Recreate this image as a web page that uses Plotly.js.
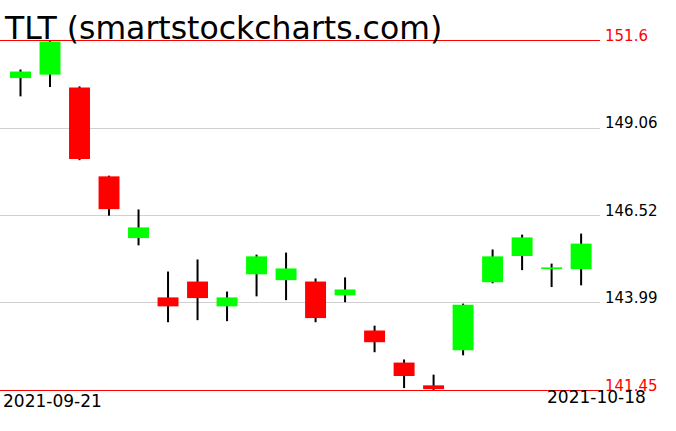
<!DOCTYPE html>
<html>
<head>
<meta charset="utf-8">
<script src="https://cdn.plot.ly/plotly-3.0.1.min.js"></script>
<style>html,body{margin:0;padding:0;background:#fff;}#chart{width:676px;height:431px;}</style>
</head>
<body>
<div id="chart"></div>
<script>
// ---- data ----
var dates = ['2021-09-21','2021-09-22','2021-09-23','2021-09-24','2021-09-27','2021-09-28','2021-09-29','2021-09-30','2021-10-01','2021-10-04',
             '2021-10-05','2021-10-06','2021-10-07','2021-10-08','2021-10-11','2021-10-12','2021-10-13','2021-10-14','2021-10-15','2021-10-18'];
var openP  = [150.51,150.61,150.24,147.66,145.87,144.15,144.61,143.89,144.82,144.65,144.61,144.21,143.19,142.26,141.60,142.62,144.59,145.35,144.97,144.97];
var highP  = [150.76,151.60,150.27,147.68,146.70,144.90,145.25,144.32,145.39,145.45,144.70,144.73,143.33,142.35,141.91,143.97,145.54,145.97,145.13,146.00];
var lowP   = [149.98,150.25,148.13,146.52,145.66,143.43,143.49,143.46,144.18,144.07,143.43,144.01,142.56,141.52,141.45,142.47,144.56,144.94,144.45,144.50];
var closeP = [150.70,151.57,148.16,146.71,146.18,143.89,144.13,144.15,145.34,144.99,143.55,144.38,142.85,141.87,141.49,143.94,145.34,145.89,145.02,145.71];
var gridLevels = [149.06, 146.52, 143.99];
var gridLabels = ['149.06', '146.52', '143.99'];
var extremeLevels = [151.6, 141.45];
var extremeLabels = ['151.6', '141.45'];
var titleText = 'TLT (smartstockcharts.com)';

// ---- build traces ----
var UP = '#00ff00', DOWN = '#ff0000';
var idx = dates.map(function (d, i) { return i; });
var wickBase = [], wickLen = [];
var bodyBase = [], bodyLen = [], bodyCol = [];
for (var i = 0; i < dates.length; i++) {
  var bHi = Math.max(openP[i], closeP[i]);
  var bLo = Math.min(openP[i], closeP[i]);
  wickBase.push(lowP[i]);
  wickLen.push(highP[i] - lowP[i]);
  bodyBase.push(bLo);
  bodyLen.push(Math.max(bHi - bLo, 0.04));
  bodyCol.push(closeP[i] >= openP[i] ? UP : DOWN);
}

var wicks = {
  type: 'bar', x: idx, y: wickLen, base: wickBase, width: 0.068,
  marker: {color: '#000000', line: {width: 0}},
  text: dates, textposition: 'none', hoverinfo: 'text', showlegend: false
};
var bodies = {
  type: 'bar', x: idx, y: bodyLen, base: bodyBase, width: 0.71,
  marker: {color: bodyCol, line: {width: 0}},
  text: dates, textposition: 'none', hoverinfo: 'text', showlegend: false
};

var shapes = extremeLevels.map(function (v) {
  return {type: 'line', xref: 'paper', x0: 0, x1: 1, yref: 'y', y0: v, y1: v,
          line: {color: '#ff0000', width: 1}, layer: 'above'};
});

var annotations = [];
gridLevels.forEach(function (v, k) {
  annotations.push({xref: 'paper', x: 1, xanchor: 'left', xshift: 3, yref: 'y', y: v, yanchor: 'bottom', yshift: -6,
    text: gridLabels[k], showarrow: false, font: {family: 'DejaVu Sans', size: 15, color: '#000000'}});
});
extremeLevels.forEach(function (v, k) {
  annotations.push({xref: 'paper', x: 1, xanchor: 'left', xshift: 3, yref: 'y', y: v, yanchor: 'bottom', yshift: -6,
    text: extremeLabels[k], showarrow: false, font: {family: 'DejaVu Sans', size: 15, color: '#ff0000'}});
});
annotations.push({xref: 'paper', x: 0, xanchor: 'left', xshift: 1, yref: 'paper', y: 0, yanchor: 'top', yshift: 11,
  text: dates[0], showarrow: false, font: {family: 'DejaVu Sans', size: 17, color: '#000000'}});
annotations.push({xref: 'paper', x: 1, xanchor: 'right', xshift: 48, yref: 'paper', y: 0, yanchor: 'top', yshift: 15,
  text: dates[dates.length - 1], showarrow: false, font: {family: 'DejaVu Sans', size: 17, color: '#000000'}});
annotations.push({xref: 'paper', x: 0, xanchor: 'left', xshift: 2, yref: 'paper', y: 1, yanchor: 'bottom', yshift: -18,
  text: titleText, showarrow: false, font: {family: 'DejaVu Sans', size: 31.5, color: '#000000'}});

var layout = {
  width: 676, height: 431,
  margin: {l: 0, r: 76, t: 30, b: 31, pad: 0},
  paper_bgcolor: '#ffffff', plot_bgcolor: '#ffffff',
  showlegend: false, barmode: 'overlay',
  xaxis: {type: 'linear', range: [-0.695, 19.64], showgrid: false, zeroline: false,
          showticklabels: false, ticks: '', showline: false, fixedrange: true},
  yaxis: {range: [141.1745, 151.9045], tickvals: gridLevels, showticklabels: false, ticks: '',
          showgrid: true, gridcolor: '#d0d0d0', gridwidth: 1, zeroline: false, showline: false, fixedrange: true},
  shapes: shapes,
  annotations: annotations
};

Plotly.newPlot('chart', [wicks, bodies], layout, {displayModeBar: false, staticPlot: true});
</script>
</body>
</html>
